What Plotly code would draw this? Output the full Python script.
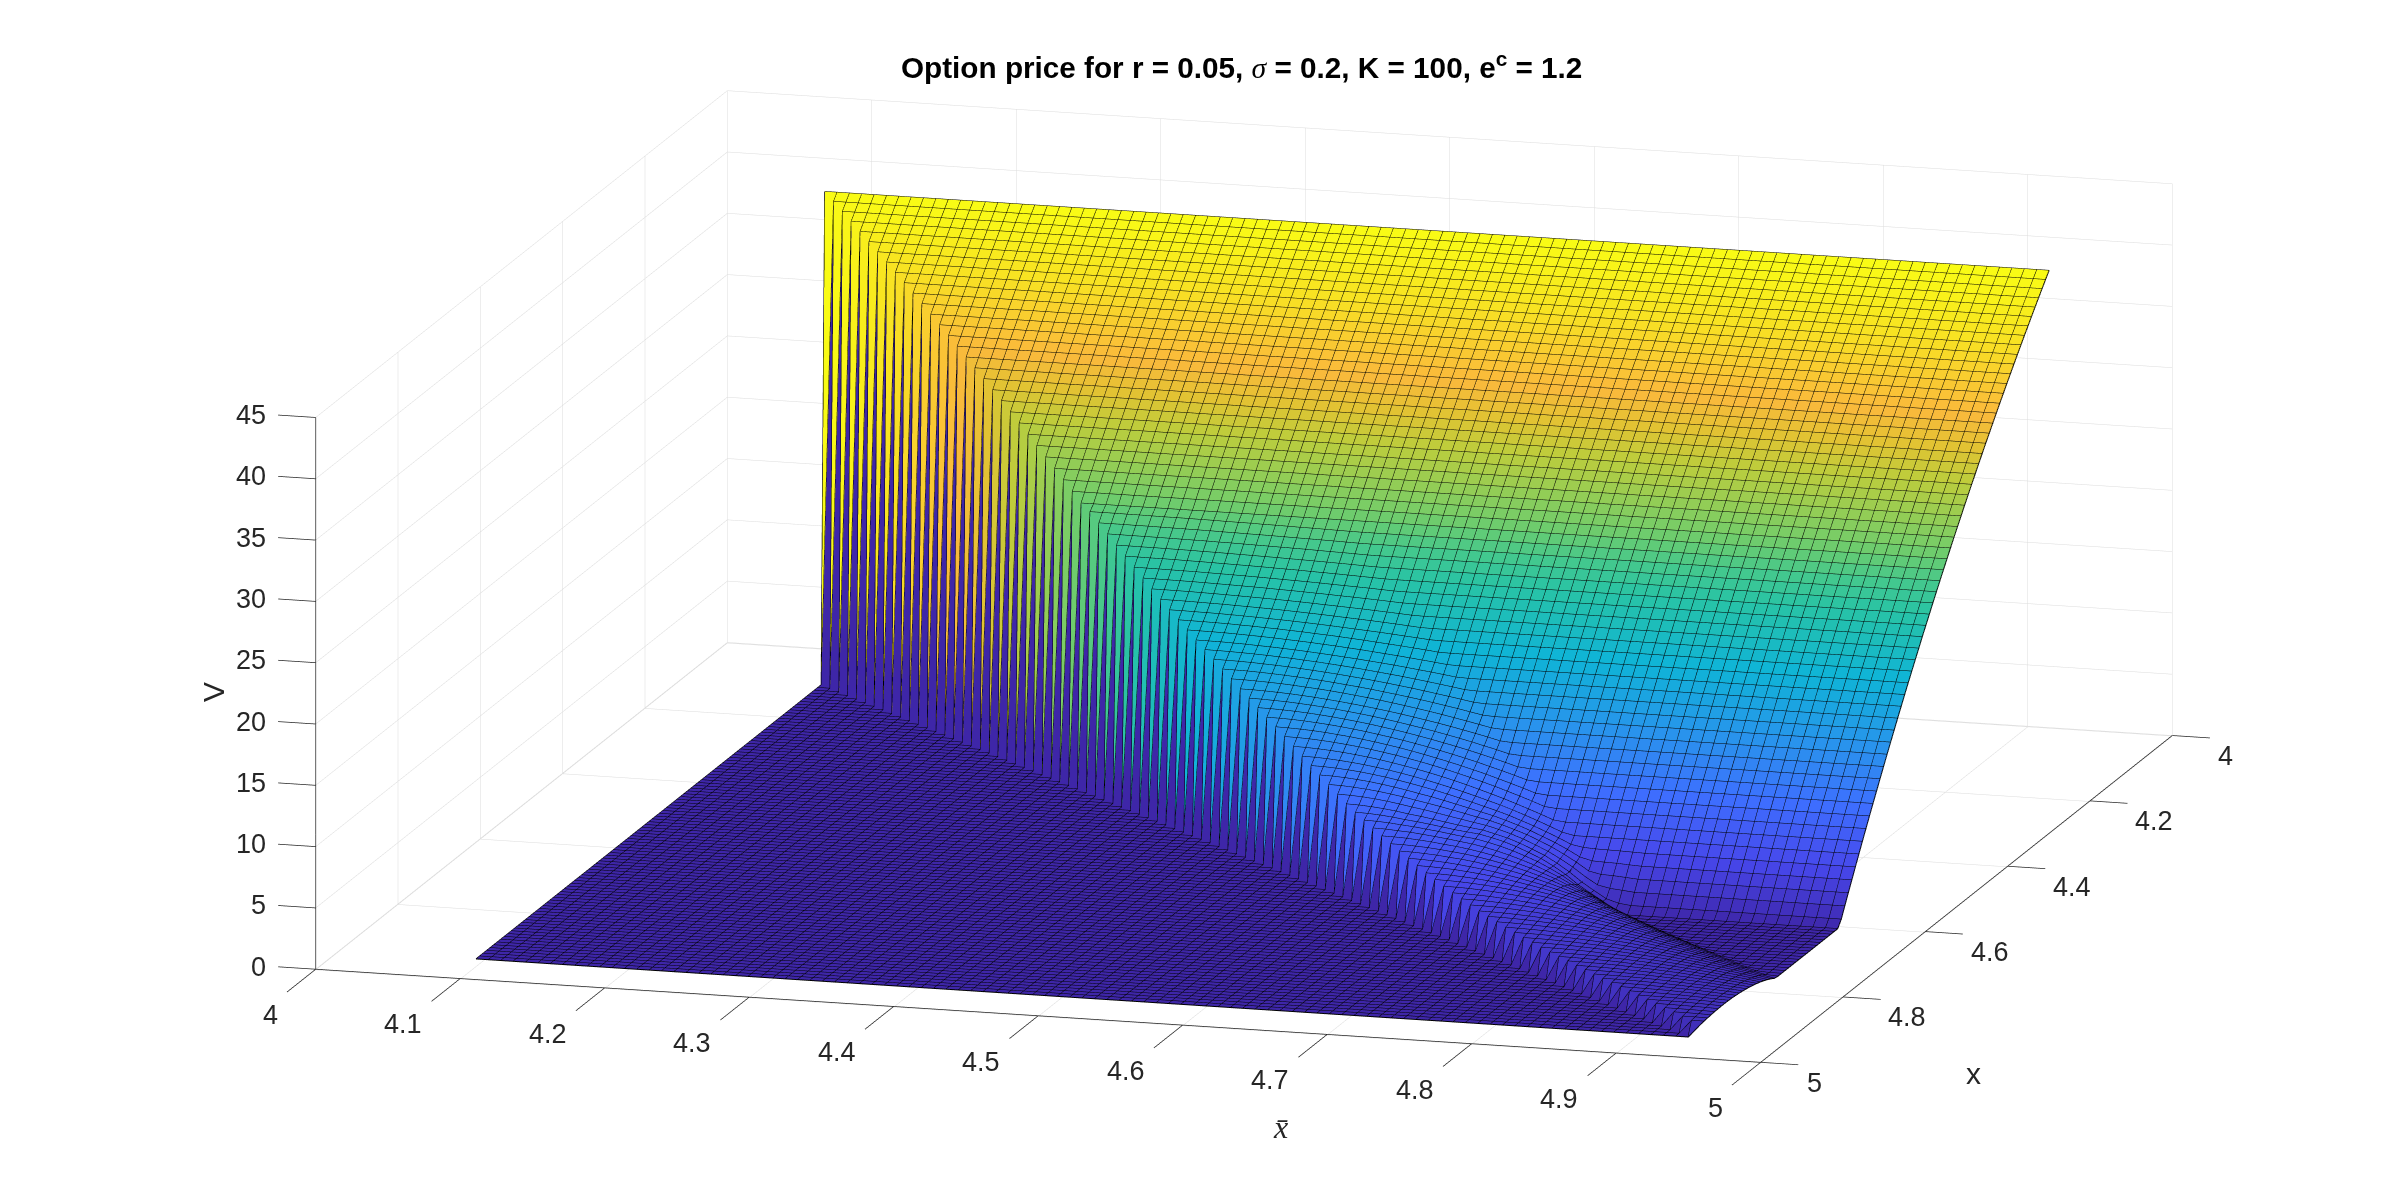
import numpy as np
import plotly.graph_objects as go

x_grid = [4.0943,4.1029,4.1115,4.1200,4.1286,4.1372,4.1457,4.1543,4.1628,4.1714,
4.1799,4.1885,4.1971,4.2056,4.2142,4.2227,4.2313,4.2398,4.2484,4.2570,
4.2655,4.2741,4.2826,4.2912,4.2997,4.3083,4.3169,4.3254,4.3340,4.3425,
4.3511,4.3597,4.3682,4.3768,4.3853,4.3939,4.4025,4.4110,4.4196,4.4281,
4.4367,4.4453,4.4538,4.4624,4.4709,4.4795,4.4880,4.4966,4.5052,4.5137,
4.5223,4.5309,4.5394,4.5480,4.5565,4.5651,4.5736,4.5822,4.5908,4.5993,
4.6079,4.6165,4.6250,4.6336,4.6421,4.6507,4.6593,4.6678,4.6764,4.6849,
4.6935,4.7021,4.7106,4.7192,4.7277,4.7363,4.7448,4.7534,4.7620,4.7705,
4.7791,4.7877,4.7962,4.8048,4.8133,4.8219,4.8304,4.8390,4.8476,4.8561,
4.8647,4.8733,4.8818,4.8904,4.8989,4.9075,4.9160,4.9246,4.9332,4.9416]

# V on the flat part of each row x (far from the wall)
floor_v = [40.00,39.48,38.96,38.44,37.91,37.37,36.83,36.29,35.74,35.19,
34.63,34.07,33.50,32.93,32.35,31.77,31.18,30.59,30.00,29.39,
28.79,28.17,27.56,26.93,26.31,25.67,25.03,24.39,23.74,23.08,
22.42,21.75,21.08,20.40,19.71,19.02,18.33,17.62,16.91,16.20,
15.48,14.75,14.02,13.28,12.53,11.78,11.02,10.25,9.48,8.70,
7.92,7.13,6.33,5.52,4.71,3.89,3.06,2.23,1.39,0.54]+[0.0]*40

# Height above floor_v in the band beside the wall: row index -> entries going from the wall towards larger x-bar
band = {
30:[.25,.25,.25,.24,.24,.23,.22,.22,.21,.20,.19,.17,.16,.15,.13,.12,.10,.08,.07,.05,.03,.01],
31:[.30,.30,.30,.29,.29,.28,.27,.26,.25,.24,.22,.21,.19,.18,.16,.14,.12,.10,.08,.06,.03,.01],
32:[.36,.36,.35,.35,.34,.33,.32,.31,.30,.28,.27,.25,.23,.21,.19,.17,.15,.12,.09,.07,.04,.01],
33:[.42,.42,.41,.41,.40,.39,.38,.36,.35,.33,.31,.29,.27,.25,.22,.20,.17,.14,.11,.08,.04,.01],
34:[.50,.50,.49,.49,.48,.46,.45,.43,.41,.39,.37,.35,.32,.29,.27,.23,.20,.17,.13,.09,.05,.01],
35:[.58,.58,.57,.56,.55,.54,.52,.50,.48,.46,.43,.40,.37,.34,.31,.27,.23,.19,.15,.11,.06,.01],
36:[.68,.68,.67,.66,.65,.63,.61,.59,.56,.54,.51,.47,.44,.40,.36,.32,.27,.23,.18,.13,.07,.02],
37:[.80,.80,.79,.78,.76,.74,.72,.69,.66,.63,.60,.56,.52,.47,.42,.37,.32,.27,.21,.15,.09,.02],
38:[.95,.95,.94,.92,.90,.88,.85,.82,.79,.75,.71,.66,.61,.56,.50,.44,.38,.32,.25,.18,.10,.02],
39:[1.10,1.10,1.08,1.07,1.05,1.02,.99,.95,.91,.87,.82,.77,.71,.65,.58,.51,.44,.37,.29,.20,.12,.03],
40:[1.30,1.29,1.28,1.26,1.24,1.20,1.17,1.12,1.08,1.02,.97,.90,.84,.77,.69,.61,.52,.43,.34,.24,.14,.03],
41:[1.50,1.49,1.48,1.46,1.43,1.39,1.35,1.30,1.24,1.18,1.12,1.04,.97,.88,.80,.70,.60,.50,.39,.28,.16,.04],
42:[1.70,1.69,1.68,1.65,1.62,1.57,1.53,1.47,1.41,1.34,1.26,1.18,1.09,1.00,.90,.80,.69,.57,.44,.32,.18,.04],
43:[1.95,1.94,1.92,1.89,1.85,1.81,1.75,1.69,1.61,1.54,1.45,1.36,1.26,1.15,1.03,.91,.79,.65,.51,.36,.21,.05],
44:[2.20,2.19,2.17,2.14,2.09,2.04,1.98,1.90,1.82,1.73,1.64,1.53,1.42,1.30,1.17,1.03,.89,.73,.57,.41,.24,.06],
45:[2.45,2.44,2.42,2.38,2.33,2.27,2.20,2.12,2.03,1.93,1.82,1.71,1.58,1.44,1.30,1.15,.99,.82,.64,.46,.26,.06],
46:[2.70,2.69,2.66,2.62,2.57,2.50,2.42,2.34,2.24,2.13,2.01,1.88,1.74,1.59,1.43,1.26,1.09,.90,.70,.50,.29,.07],
47:[2.95,2.94,2.91,2.86,2.81,2.73,2.65,2.55,2.44,2.32,2.19,2.05,1.90,1.74,1.56,1.38,1.19,.99,.77,.55,.32,.07],
48:[3.25,3.24,3.20,3.16,3.09,3.01,2.92,2.81,2.69,2.56,2.42,2.26,2.09,1.91,1.72,1.52,1.31,1.09,.85,.60,.35,.08],
49:[3.55,3.54,3.50,3.45,3.38,3.29,3.19,3.07,2.94,2.80,2.64,2.47,2.29,2.09,1.88,1.66,1.43,1.19,.93,.66,.38,.09],
50:[3.85,3.83,3.80,3.74,3.66,3.57,3.46,3.33,3.19,3.03,2.86,2.68,2.48,2.27,2.04,1.80,1.55,1.29,1.00,.72,.41,.10],
51:[4.15,4.13,4.09,4.03,3.95,3.84,3.73,3.59,3.44,3.27,3.09,2.89,2.67,2.44,2.20,1.94,1.67,1.39,1.08,.77,.44,.10],
52:[4.45,4.43,4.39,4.32,4.23,4.12,4.00,3.85,3.68,3.51,3.31,3.10,2.87,2.62,2.36,2.08,1.79,1.49,1.16,.83,.48,.11],
53:[4.75,4.73,4.68,4.61,4.52,4.40,4.27,4.11,3.93,3.74,3.53,3.31,3.06,2.80,2.52,2.22,1.91,1.59,1.24,.88,.51,.12],
54:[5.05,5.03,4.98,4.90,4.80,4.68,4.53,4.37,4.18,3.98,3.76,3.52,3.26,2.99,2.71,2.41,2.11,1.77,1.41,1.03,.63,.22],
55:[5.40,5.38,5.32,5.24,5.14,5.00,4.85,4.67,4.47,4.26,4.04,3.79,3.53,3.26,2.97,2.69,2.37,2.01,1.64,1.23,.81,.34,.16,.10,.08,.06,.03],
56:[5.75,5.73,5.67,5.58,5.47,5.32,5.16,4.97,4.76,4.56,4.33,4.09,3.84,3.59,3.34,3.03,2.70,2.32,1.90,1.47,.98,.43,.18,.14,.11,.05],
57:[6.10,6.08,6.01,5.92,5.80,5.65,5.48,5.28,5.09,4.89,4.67,4.45,4.22,4.01,3.72,3.40,3.05,2.63,2.18,1.65,1.07,.41,.20,.16,.08],
58:[6.45,6.42,6.36,6.26,6.13,5.97,5.79,5.63,5.44,5.24,5.05,4.86,4.68,4.42,4.12,3.76,3.34,2.89,2.34,1.73,1.02,.41,.20,.10],
59:[6.80,6.77,6.70,6.60,6.47,6.30,6.17,6.00,5.83,5.66,5.51,5.38,5.13,4.86,4.50,4.08,3.64,3.07,2.42,1.66,1.03,.42,.12],
60:[6.95,6.92,6.85,6.75,6.61,6.50,6.36,6.21,6.05,5.93,5.82,5.59,5.33,4.99,4.58,4.15,3.60,2.97,2.21,1.59,.99,.29],
61:[6.60,6.57,6.51,6.41,6.32,6.19,6.07,5.92,5.78,5.66,5.44,5.19,4.88,4.52,4.13,3.65,3.12,2.48,1.93,1.41,.79,.17],
62:[6.25,6.23,6.16,6.10,5.99,5.88,5.75,5.61,5.47,5.27,5.03,4.75,4.43,4.08,3.67,3.22,2.70,2.23,1.74,1.21,.67,.16],
63:[5.90,5.88,5.84,5.76,5.67,5.54,5.43,5.28,5.10,4.89,4.64,4.36,4.05,3.70,3.31,2.87,2.46,2.04,1.57,1.10,.63,.15],
64:[5.55,5.54,5.49,5.43,5.33,5.22,5.10,4.94,4.75,4.53,4.29,4.02,3.71,3.39,3.01,2.65,2.29,1.87,1.45,1.03,.59,.14],
65:[5.25,5.23,5.18,5.11,5.00,4.91,4.77,4.61,4.42,4.21,3.98,3.71,3.43,3.12,2.78,2.46,2.12,1.75,1.37,.98,.56,.13],
66:[4.95,4.93,4.88,4.81,4.71,4.58,4.45,4.28,4.10,3.90,3.68,3.45,3.19,2.92,2.62,2.32,1.99,1.65,1.29,.92,.53,.12],
67:[4.65,4.63,4.58,4.52,4.42,4.31,4.18,4.02,3.85,3.66,3.46,3.24,2.99,2.74,2.46,2.18,1.87,1.55,1.21,.86,.50,.12],
68:[4.35,4.33,4.29,4.22,4.14,4.03,3.91,3.76,3.60,3.43,3.24,3.03,2.80,2.56,2.31,2.04,1.75,1.45,1.14,.81,.47,.11],
69:[4.10,4.08,4.04,3.98,3.90,3.80,3.68,3.55,3.39,3.23,3.05,2.85,2.64,2.41,2.17,1.92,1.65,1.37,1.07,.76,.44,.10],
70:[3.85,3.83,3.80,3.74,3.66,3.57,3.46,3.33,3.19,3.03,2.86,2.68,2.48,2.27,2.04,1.80,1.55,1.29,1.00,.72,.41,.10],
71:[3.60,3.59,3.55,3.50,3.42,3.33,3.23,3.11,2.98,2.84,2.68,2.51,2.32,2.12,1.91,1.68,1.45,1.20,.94,.67,.39,.09],
72:[3.40,3.39,3.35,3.30,3.23,3.15,3.05,2.94,2.82,2.68,2.53,2.37,2.19,2.00,1.80,1.59,1.37,1.14,.89,.63,.36,.09],
73:[3.20,3.19,3.16,3.11,3.04,2.96,2.87,2.77,2.65,2.52,2.38,2.23,2.06,1.88,1.70,1.50,1.29,1.07,.84,.60,.34,.08],
74:[3.00,2.99,2.96,2.91,2.85,2.78,2.69,2.60,2.48,2.36,2.23,2.09,1.93,1.77,1.59,1.40,1.21,1.00,.78,.56,.32,.08],
75:[2.85,2.84,2.81,2.77,2.71,2.64,2.56,2.47,2.36,2.25,2.12,1.98,1.84,1.68,1.51,1.33,1.15,.95,.74,.53,.30,.07],
76:[2.70,2.69,2.66,2.62,2.57,2.50,2.42,2.34,2.24,2.13,2.01,1.88,1.74,1.59,1.43,1.26,1.09,.90,.70,.50,.29,.07],
77:[2.55,2.54,2.51,2.48,2.43,2.36,2.29,2.21,2.11,2.01,1.90,1.77,1.64,1.50,1.35,1.19,1.03,.85,.67,.47,.27,.06],
78:[2.42,2.41,2.39,2.35,2.30,2.24,2.17,2.09,2.00,1.91,1.80,1.68,1.56,1.43,1.28,1.13,.98,.81,.63,.45,.26,.06],
79:[2.30,2.29,2.27,2.23,2.19,2.13,2.07,1.99,1.90,1.81,1.71,1.60,1.48,1.35,1.22,1.08,.93,.77,.60,.43,.25],
80:[2.20,2.19,2.17,2.14,2.09,2.04,1.98,1.90,1.82,1.73,1.64,1.53,1.42,1.30,1.17,1.03,.89,.73,.57,.41],
81:[2.10,2.09,2.07,2.04,2.00,1.94,1.89,1.82,1.74,1.65,1.56,1.46,1.35,1.24,1.11,.98,.85,.70,.55],
82:[2.00,1.99,1.97,1.94,1.90,1.85,1.80,1.73,1.66,1.58,1.49,1.39,1.29,1.18,1.06,.94,.81,.67],
83:[1.93,1.92,1.90,1.87,1.84,1.79,1.73,1.67,1.60,1.52,1.44,1.34,1.24,1.14,1.02,.90,.78],
84:[1.86,1.85,1.83,1.81,1.77,1.72,1.67,1.61,1.54,1.47,1.38,1.29,1.20,1.10,.99,.87],
85:[1.79,1.78,1.76,1.74,1.70,1.66,1.61,1.55,1.48,1.41,1.33,1.25,1.15,1.05,.95],
86:[1.73,1.72,1.71,1.68,1.65,1.60,1.55,1.50,1.43,1.36,1.29,1.20,1.11,1.02],
87:[1.67,1.66,1.65,1.62,1.59,1.55,1.50,1.44,1.38,1.32,1.24,1.16,1.08],
88:[1.62,1.61,1.60,1.57,1.54,1.50,1.45,1.40,1.34,1.28,1.21,1.13],
89:[1.57,1.56,1.55,1.52,1.49,1.45,1.41,1.36,1.30,1.24,1.17],
90:[1.52,1.51,1.50,1.48,1.45,1.41,1.36,1.31,1.26,1.20],
91:[1.47,1.46,1.45,1.43,1.40,1.36,1.32,1.27,1.22],
92:[1.42,1.41,1.40,1.38,1.35,1.31,1.28,1.23],
93:[1.37,1.36,1.35,1.33,1.30,1.27,1.23],
94:[1.32,1.31,1.30,1.28,1.26,1.22],
95:[1.27,1.26,1.25,1.23,1.21],
96:[1.22,1.22,1.20,1.18],
97:[1.17,1.17,1.15],
98:[1.12,1.12],
99:[1.07],
}

xbar_ticks = [4,4.1,4.2,4.3,4.4,4.5,4.6,4.7,4.8,4.9,5]
xbar_labels = ['4','4.1','4.2','4.3','4.4','4.5','4.6','4.7','4.8','4.9','5']
x_ticks = [4,4.2,4.4,4.6,4.8,5]
x_labels = ['4','4.2','4.4','4.6','4.8','5']
v_ticks = [0,5,10,15,20,25,30,35,40,45]
v_labels = ['0','5','10','15','20','25','30','35','40','45']

n = len(x_grid)
z = np.zeros((n, n))
for i in range(n):
    z[i, i:] = floor_v[i]
for i, row in band.items():
    for d, v in enumerate(row):
        z[i, i+d] = floor_v[i] + v

X, Y = np.meshgrid(x_grid, x_grid)
idx = np.arange(n*n).reshape(n, n)
a = idx[:-1, :-1].ravel(); b = idx[:-1, 1:].ravel(); c = idx[1:, 1:].ravel(); e = idx[1:, :-1].ravel()
I = np.concatenate([a, a]); J = np.concatenate([b, c]); K = np.concatenate([c, e])
cell = np.concatenate([z[:-1, :-1].ravel()]*2)

parula = [[0,'rgb(62,38,168)'],[.1,'rgb(71,71,235)'],[.2,'rgb(62,111,255)'],[.3,'rgb(39,150,235)'],
[.4,'rgb(15,180,215)'],[.5,'rgb(40,195,165)'],[.55,'rgb(70,200,140)'],[.6,'rgb(115,205,105)'],[.7,'rgb(190,205,60)'],
[.75,'rgb(225,195,50)'],[.8,'rgb(250,185,60)'],[.9,'rgb(248,225,35)'],[1,'rgb(249,251,21)']]

mesh = go.Mesh3d(x=X.ravel(), y=Y.ravel(), z=z.ravel(), i=I, j=J, k=K, intensity=cell, intensitymode='cell',
    colorscale=parula, cmin=0, cmax=40, showscale=False, hoverinfo='skip',
    lighting=dict(ambient=1, diffuse=0, specular=0, roughness=1, fresnel=0), flatshading=True)

lx=[];ly=[];lz=[]
for i in range(n):
    lx += list(x_grid)+[None]; ly += [x_grid[i]]*n+[None]; lz += list(z[i])+[None]
for j in range(n):
    lx += [x_grid[j]]*n+[None]; ly += list(x_grid)+[None]; lz += list(z[:,j])+[None]
lines = go.Scatter3d(x=lx,y=ly,z=lz,mode='lines',line=dict(color='black',width=2),hoverinfo='skip',showlegend=False)

XB0, XB1, XF, XB = xbar_ticks[0], xbar_ticks[-1], x_ticks[-1], x_ticks[0]
VT = v_ticks[-1]; FL = -0.05
XBAR_TICK_LEN = 0.07; X_TICK_LEN = 0.026; V_TICK_LEN = 0.026
gx=[];gy=[];gz=[]
def seg(L, p, q):
    L[0].extend([p[0], q[0], None]); L[1].extend([p[1], q[1], None]); L[2].extend([p[2], q[2], None])
G=(gx,gy,gz)
for t in xbar_ticks:
    seg(G,(t,XF,FL),(t,XB,FL)); seg(G,(t,XB,0),(t,XB,VT))
for t in x_ticks:
    seg(G,(XB0,t,FL),(XB1,t,FL)); seg(G,(XB0,t,0),(XB0,t,VT))
for t in v_ticks:
    seg(G,(XB0,XB,t),(XB1,XB,t)); seg(G,(XB0,XF,t),(XB0,XB,t))
grid = go.Scatter3d(x=gx,y=gy,z=gz,mode='lines',line=dict(color='#dcdcdc',width=1),hoverinfo='skip',showlegend=False)
ax=[];ay=[];az=[]
A=(ax,ay,az)
seg(A,(XB0,XF,0),(XB1,XF,0)); seg(A,(XB1,XF,0),(XB1,XB,0)); seg(A,(XB0,XF,0),(XB0,XF,VT))
for t in xbar_ticks: seg(A,(t,XF,0),(t,XF+XBAR_TICK_LEN,0))
for t in x_ticks: seg(A,(XB1,t,0),(XB1+X_TICK_LEN,t,0))
for t in v_ticks: seg(A,(XB0,XF,t),(XB0-V_TICK_LEN,XF,t))
axes = go.Scatter3d(x=ax,y=ay,z=az,mode='lines',line=dict(color='#262626',width=1.5),hoverinfo='skip',showlegend=False)

tf = dict(family='Liberation Sans', size=27, color='#262626')
ann3d = []
for t,s in zip(xbar_ticks,xbar_labels):
    ann3d.append(dict(x=t,y=XF+XBAR_TICK_LEN,z=0,text=s,showarrow=False,font=tf,xanchor='center',yanchor='middle',
                      xshift=-28 if len(s)>1 else -16, yshift=-23))
for t,s in zip(x_ticks,x_labels):
    ann3d.append(dict(x=XB1+X_TICK_LEN,y=t,z=0,text=s,showarrow=False,font=tf,xanchor='center',yanchor='middle',
                      xshift=27 if len(s)>1 else 16, yshift=-18))
for t,s in zip(v_ticks,v_labels):
    ann3d.append(dict(x=XB0-V_TICK_LEN,y=XF,z=t,text=s,showarrow=False,font=tf,xanchor='right',yanchor='middle',xshift=-10,yshift=0))

hidden = dict(visible=False)
D = 5.0
eye = dict(x=.2669*D, y=-.937*D, z=.2262*D)
fig = go.Figure([grid, mesh, lines, axes])
fig.update_layout(width=2400, height=1196, margin=dict(l=0,r=0,t=0,b=0), paper_bgcolor='white', showlegend=False,
  scene=dict(domain=dict(x=[.0365,1],y=[.036,1]), aspectmode='manual', aspectratio=dict(x=2.971,y=2.971,z=.9869),
    xaxis=dict(range=[3.93,5.07], **hidden),
    yaxis=dict(range=[5.07,3.93], **hidden),
    zaxis=dict(range=[-0.1,45.1], **hidden),
    annotations=ann3d,
    camera=dict(eye=eye, center=dict(x=0,y=0,z=0), up=dict(x=0,y=0,z=1), projection=dict(type='orthographic'))),
  annotations=[
    dict(xref='paper',yref='paper',x=1241/2400,y=1-66/1196,showarrow=False,xanchor='center',yanchor='middle',
         text="<b>Option price for r = 0.05, </b><span style=\"font-family:'Liberation Serif'\"><i>σ</i></span><b> = 0.2, K = 100, e<sup>c</sup> = 1.2</b>",
         font=dict(family='Liberation Sans',size=29.7,color='black')),
    dict(xref='paper',yref='paper',x=214/2400,y=1-692/1196,xanchor='center',yanchor='middle',showarrow=False,text='V',textangle=-90,font=dict(family='Liberation Sans',size=30,color='#262626')),
    dict(xref='paper',yref='paper',x=1973/2400,y=1-1073/1196,xanchor='center',yanchor='middle',showarrow=False,text='x',font=dict(family='Liberation Sans',size=30,color='#262626')),
    dict(xref='paper',yref='paper',x=1280/2400,y=1-1127/1196,xanchor='center',yanchor='middle',showarrow=False,text='<i>x̄</i>',font=dict(family='Liberation Serif',size=32,color='#262626')),
  ])
fig.write_html("out.html", post_script="document.body.style.margin='0';", config=dict(displayModeBar=False))
